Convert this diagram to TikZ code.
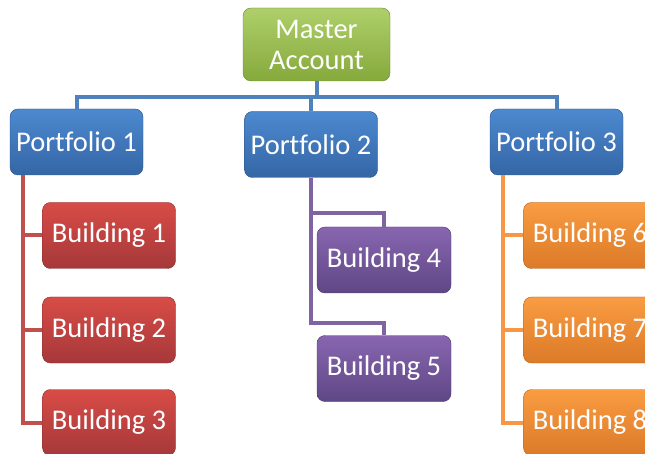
\documentclass[tikz,border=0pt]{standalone}
\usepackage{fontspec}
\setmainfont[Ligatures=NoCommon]{Carlito}
\usepackage{xcolor}

\definecolor{greenTop}{HTML}{AECF6A}
\definecolor{greenBot}{HTML}{86A93C}
\definecolor{blueTop}{HTML}{4C89CF}
\definecolor{blueBot}{HTML}{3566A6}
\definecolor{blueLine}{HTML}{4F81BD}
\definecolor{redTop}{HTML}{D84C46}
\definecolor{redBot}{HTML}{A6383A}
\definecolor{redLine}{HTML}{C0504D}
\definecolor{purpleTop}{HTML}{8866B0}
\definecolor{purpleBot}{HTML}{5F4785}
\definecolor{purpleLine}{HTML}{8064A2}
\definecolor{orangeTop}{HTML}{F99C42}
\definecolor{orangeBot}{HTML}{DC7A28}
\definecolor{orangeLine}{HTML}{F79646}

\tikzset{
  box/.style={rounded corners=8pt, text=white, align=center,
    minimum width=133pt, minimum height=66pt, inner sep=0pt,
    font=\fontsize{28.5}{31}\selectfont},
  masterbox/.style={box, minimum width=147pt, minimum height=73pt,
    top color=greenTop, bottom color=greenBot, draw=greenBot!80!black},
  portbox/.style={box, top color=blueTop, bottom color=blueBot, draw=blueBot!80!black},
  redbox/.style={box, top color=redTop, bottom color=redBot, draw=redBot!80!black},
  purplebox/.style={box, minimum width=134pt, top color=purpleTop, bottom color=purpleBot, draw=purpleBot!80!black},
  orangebox/.style={box, top color=orangeTop, bottom color=orangeBot, draw=orangeBot!80!black},
  link/.style={line width=4pt}
}

\begin{document}
\begin{tikzpicture}[x=1pt, y=-1pt]
  \useasboundingbox (0,0) rectangle (645,454);
  \clip (0,0) rectangle (645,454);

  % Master
  \node[masterbox] (master) at (316.5,44.5) {Master\\Account};

  % Portfolios
  \node[portbox] (port1) at (76.5,142) {Portfolio 1};
  \node[portbox] (port2) at (311,144.5) {Portfolio 2};
  \node[portbox] (port3) at (556.5,142) {Portfolio 3};

  % Buildings
  \node[redbox] (bld1) at (109,235.5) {Building 1};
  \node[redbox] (bld2) at (109,330) {Building 2};
  \node[redbox] (bld3) at (109,422.5) {Building 3};

  \node[purplebox] (bld4) at (384,260) {Building 4};
  \node[purplebox] (bld5) at (384,368.5) {Building 5};

  \node[orangebox] (bld6) at (590,235.5) {Building 6};
  \node[orangebox] (bld7) at (590,330) {Building 7};
  \node[orangebox] (bld8) at (590,422.5) {Building 8};

  % Master to portfolios
  \draw[link, blueLine] (master.south) -- ++(0,16) -| (port1.north);
  \draw[link, blueLine] (master.south) -- ++(0,16) -| (port3.north);
  \draw[link, blueLine] (master.south) -- ++(0,16) -| (port2.north);

  % Portfolio 1
  \draw[link, redLine] ([xshift=13pt]port1.south west) |- (bld1.west);
  \draw[link, redLine] ([xshift=13pt]port1.south west) |- (bld2.west);
  \draw[link, redLine] ([xshift=13pt]port1.south west) |- (bld3.west);

  % Portfolio 2
  \draw[link, purpleLine] (port2.south) |- ([yshift=14pt]bld4.north) -- (bld4.north);
  \draw[link, purpleLine] (port2.south) |- ([yshift=12pt]bld5.north) -- (bld5.north);

  % Portfolio 3
  \draw[link, orangeLine] ([xshift=13pt]port3.south west) |- (bld6.west);
  \draw[link, orangeLine] ([xshift=13pt]port3.south west) |- (bld7.west);
  \draw[link, orangeLine] ([xshift=13pt]port3.south west) |- (bld8.west);
\end{tikzpicture}
\end{document}
